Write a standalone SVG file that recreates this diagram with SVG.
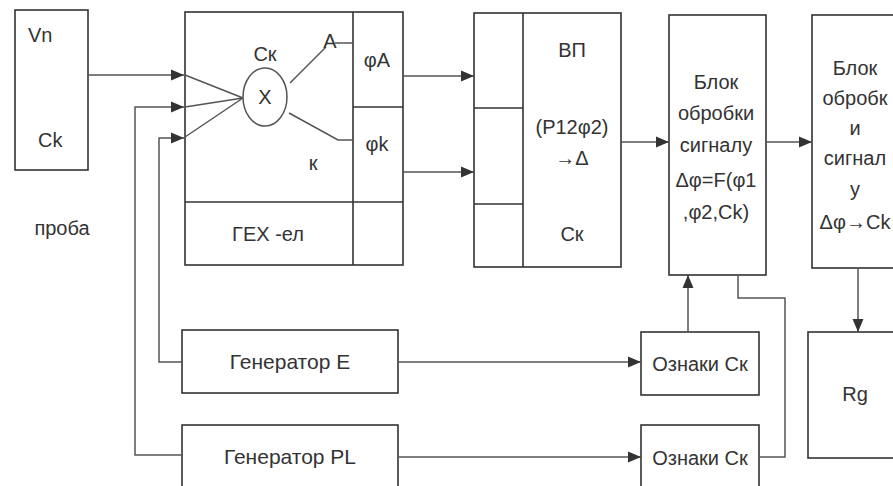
<svg xmlns="http://www.w3.org/2000/svg" width="893" height="486" viewBox="0 0 893 486">
<defs>
<style>
.b{fill:none;stroke:#333;stroke-width:1.6}
.l{fill:none;stroke:#555;stroke-width:1.5}
.c{fill:none;stroke:#555;stroke-width:1.5}
.a{marker-end:url(#ar)}
text{font-family:"Liberation Sans",Arial,sans-serif;font-size:20px;fill:#333}
.m{text-anchor:middle}
.g{font-size:21px}
</style>
<marker id="ar" markerUnits="userSpaceOnUse" markerWidth="14" markerHeight="12" refX="13" refY="6" orient="auto">
<path d="M0,0.5 L13,6 L0,11.5 Z" fill="#333"/>
</marker>
</defs>
<rect width="893" height="486" fill="#fff"/>
<g id="vn">
<rect class="b" x="15" y="10" width="73" height="160"/>
<text x="28" y="42">Vn</text>
<text x="38" y="147">Ck</text>
</g>
<g id="proba"><text class="m" x="62" y="235">проба</text></g>
<g id="gex">
<rect class="b" x="185" y="12" width="218" height="253"/>
<line class="b" x1="353" y1="12" x2="353" y2="265"/>
<line class="b" x1="185" y1="202" x2="403" y2="202"/>
<line class="b" x1="353" y1="107" x2="403" y2="107"/>
<ellipse class="l" cx="265" cy="97" rx="22" ry="29"/>
<path class="l" d="M185,75 L243,98 M185,107 L243,98 M185,137 L243,98 M290,83 L326,47 M335,43 H353 M289,113 L338,140 H353"/>
<text class="m" x="265" y="61">Ск</text>
<text class="m" x="265" y="104">X</text>
<text class="m" x="330" y="48">A</text>
<text class="m" x="313" y="170">к</text>
<text class="m" x="377" y="67">φA</text>
<text class="m" x="377" y="151">φk</text>
<text class="m" x="268" y="241">ГЕХ -ел</text>
</g>
<g id="vp">
<rect class="b" x="474" y="13" width="147" height="254"/>
<line class="b" x1="523" y1="13" x2="523" y2="267"/>
<line class="b" x1="474" y1="108" x2="523" y2="108"/>
<line class="b" x1="474" y1="204" x2="523" y2="204"/>
<text class="m" x="572" y="57">ВП</text>
<text class="m" x="572" y="134">(P12φ2)</text>
<text class="m" x="572" y="165">→Δ</text>
<text class="m" x="572" y="241">Ск</text>
</g>
<g id="blok1">
<rect class="b" x="669" y="15" width="97" height="260"/>
<text class="m" x="716" y="89">Блок</text>
<text class="m" x="716" y="120">обробки</text>
<text class="m" x="716" y="152">сигналу</text>
<text class="m" x="716" y="187">Δφ=F(φ1</text>
<text class="m" x="716" y="219">,φ2,Ck)</text>
</g>
<g id="blok2">
<rect class="b" x="812" y="15" width="100" height="253"/>
<text class="m" x="855" y="75">Блок</text>
<text class="m" x="855" y="105">обробк</text>
<text class="m" x="855" y="135">и</text>
<text class="m" x="855" y="165">сигнал</text>
<text class="m" x="855" y="196">у</text>
<text class="m" x="855" y="229">Δφ→Ck</text>
</g>
<g id="genE">
<rect class="b" x="182" y="330" width="216" height="63"/>
<text class="m g" x="290" y="369">Генератор E</text>
</g>
<g id="genPL">
<rect class="b" x="182" y="425" width="216" height="75"/>
<text class="m g" x="290" y="464">Генератор PL</text>
</g>
<g id="oznaki1">
<rect class="b" x="641" y="332" width="118" height="63"/>
<text class="m" x="700" y="371">Ознаки Ск</text>
</g>
<g id="oznaki2">
<rect class="b" x="641" y="425" width="118" height="75"/>
<text class="m" x="700" y="465">Ознаки Ск</text>
</g>
<g id="rg">
<rect class="b" x="808" y="332" width="100" height="126"/>
<text class="m" x="855" y="401">Rg</text>
</g>
<g id="connectors">
<path class="c a" d="M88,75 H184"/>
<path class="c a" d="M182,455 H135 V107 H184"/>
<path class="c a" d="M182,362 H159 V138 H184"/>
<path class="c a" d="M403,76 H474"/>
<path class="c a" d="M403,172 H474"/>
<path class="c a" d="M621,142 H669"/>
<path class="c a" d="M766,142 H812"/>
<path class="c a" d="M688,332 V275"/>
<path class="c" d="M738,275 V298 H785 V457 H759"/>
<path class="c a" d="M858,268 V332"/>
<path class="c a" d="M398,362 H641"/>
<path class="c a" d="M398,457 H641"/>
</g>
</svg>
